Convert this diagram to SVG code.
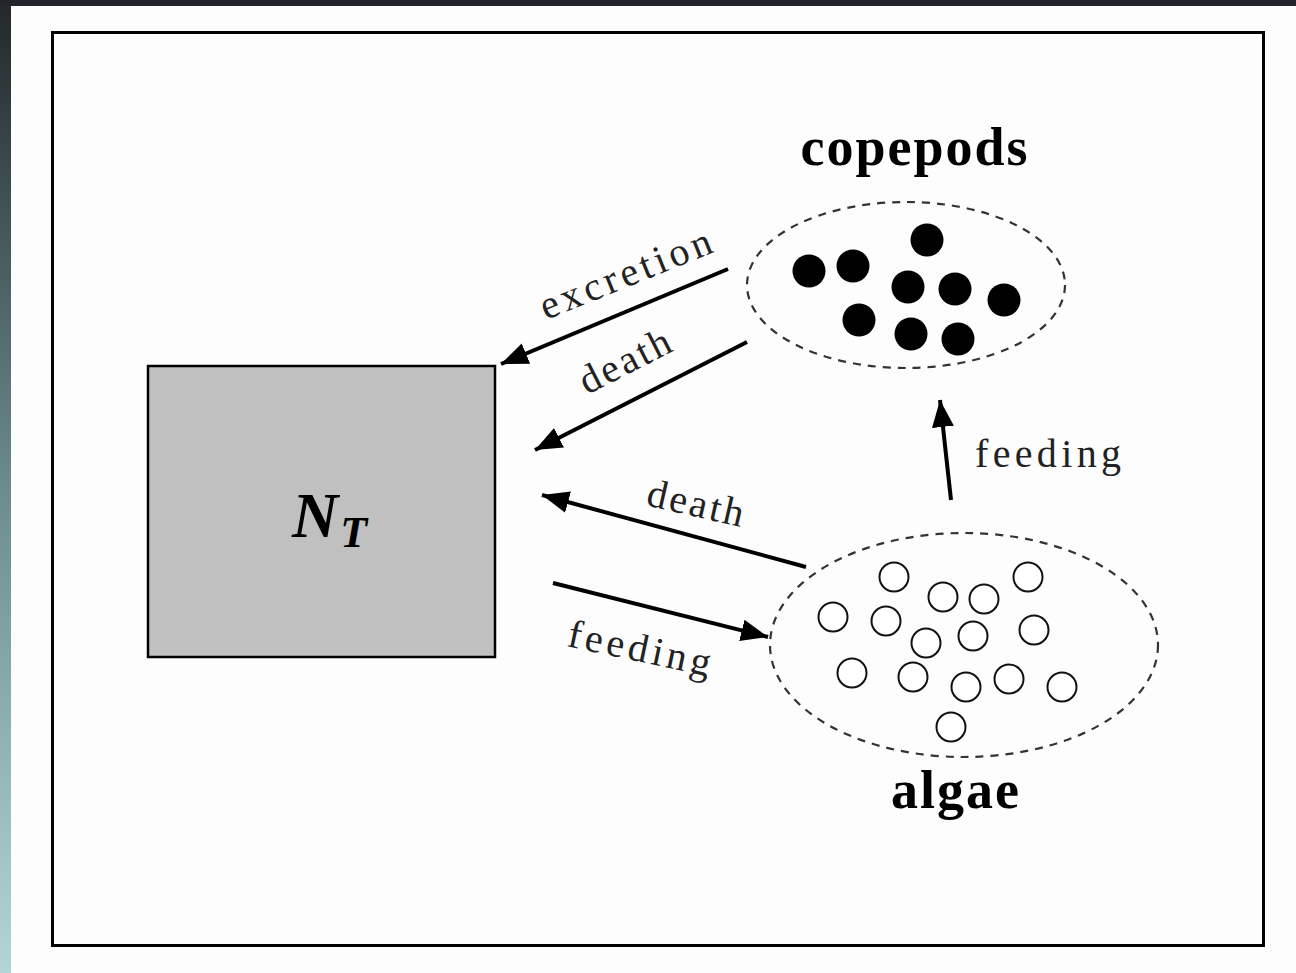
<svg xmlns="http://www.w3.org/2000/svg" width="1296" height="973" viewBox="0 0 1296 973">
<defs>
<linearGradient id="strip" x1="0" y1="0" x2="0" y2="1">
<stop offset="0" stop-color="#22272a"/>
<stop offset="0.5" stop-color="#6b8b8f"/>
<stop offset="1" stop-color="#b2d6d8"/>
</linearGradient>
<marker id="ah" markerUnits="userSpaceOnUse" markerWidth="32" markerHeight="26" refX="27" refY="11" orient="auto">
<path d="M0,0 L27,11 L0,22 Z" fill="#000"/>
</marker>
</defs>
<style>
.lbl{font-family:"Liberation Serif","Times New Roman",serif;font-size:40px;fill:#222}
.title{font-family:"Liberation Serif","Times New Roman",serif;font-size:54px;font-weight:bold;fill:#000;letter-spacing:2px}
.arrow{stroke:#000;stroke-width:4;fill:none;marker-end:url(#ah)}
.pop{fill:none;stroke:#333;stroke-width:2.2;stroke-dasharray:8,7}
.dot{fill:#000}
.cell{fill:#fff;stroke:#111;stroke-width:2}
</style>
<rect x="0" y="0" width="1296" height="973" fill="#fdfdfd"/>
<rect x="0" y="0" width="11" height="973" fill="url(#strip)"/>
<rect x="0" y="0" width="1296" height="6" fill="#22262a"/>
<rect x="52.5" y="32.5" width="1211" height="913" fill="#fdfdfd" stroke="#000" stroke-width="3"/>

<g id="nt">
<rect x="148" y="366" width="347" height="291" fill="#c0c0c0" stroke="#000" stroke-width="2.5"/>
<text x="292" y="537" font-family="Liberation Serif, Times New Roman, serif" font-size="64" font-style="italic" font-weight="bold" fill="#000">N<tspan font-size="44" dy="10" dx="2">T</tspan></text>
</g>

<g id="copepods">
<ellipse class="pop" cx="906" cy="285" rx="159" ry="83"/>
<circle class="dot" cx="927" cy="240" r="16.5"/>
<circle class="dot" cx="809" cy="271" r="16.5"/>
<circle class="dot" cx="853" cy="266" r="16.5"/>
<circle class="dot" cx="908" cy="287" r="16.5"/>
<circle class="dot" cx="955" cy="289" r="16.5"/>
<circle class="dot" cx="1004" cy="300" r="16.5"/>
<circle class="dot" cx="859" cy="320" r="16.5"/>
<circle class="dot" cx="911" cy="334" r="16.5"/>
<circle class="dot" cx="958" cy="339" r="16.5"/>
<text class="title" x="915" y="165" text-anchor="middle">copepods</text>
</g>

<g id="algae">
<ellipse class="pop" cx="964" cy="645" rx="194" ry="112"/>
<circle class="cell" cx="894" cy="577" r="14.5"/>
<circle class="cell" cx="943" cy="597" r="14.5"/>
<circle class="cell" cx="984" cy="599" r="14.5"/>
<circle class="cell" cx="1028" cy="577" r="14.5"/>
<circle class="cell" cx="833" cy="617" r="14.5"/>
<circle class="cell" cx="886" cy="621" r="14.5"/>
<circle class="cell" cx="926" cy="643" r="14.5"/>
<circle class="cell" cx="973" cy="636" r="14.5"/>
<circle class="cell" cx="1034" cy="630" r="14.5"/>
<circle class="cell" cx="852" cy="673" r="14.5"/>
<circle class="cell" cx="913" cy="677" r="14.5"/>
<circle class="cell" cx="966" cy="687" r="14.5"/>
<circle class="cell" cx="1009" cy="679" r="14.5"/>
<circle class="cell" cx="1062" cy="687" r="14.5"/>
<circle class="cell" cx="951" cy="727" r="14.5"/>
<text class="title" x="956" y="808" text-anchor="middle">algae</text>
</g>

<g id="connectors">
<line class="arrow" x1="728" y1="269" x2="501" y2="364"/>
<line class="arrow" x1="747" y1="342" x2="535" y2="450"/>
<line class="arrow" x1="806" y1="567" x2="542" y2="495"/>
<line class="arrow" x1="553" y1="583" x2="768" y2="637"/>
<line class="arrow" x1="951" y1="500" x2="940" y2="400"/>
<text class="lbl" transform="translate(546,320) rotate(-22)" textLength="182" lengthAdjust="spacing">excretion</text>
<text class="lbl" transform="translate(587,395) rotate(-27)" textLength="98" lengthAdjust="spacing">death</text>
<text class="lbl" transform="translate(645,505) rotate(13)" textLength="98" lengthAdjust="spacing">death</text>
<text class="lbl" transform="translate(566,646) rotate(12)" textLength="145" lengthAdjust="spacing">feeding</text>
<text class="lbl" x="975" y="467" font-size="42" textLength="146" lengthAdjust="spacing">feeding</text>
</g>
</svg>
